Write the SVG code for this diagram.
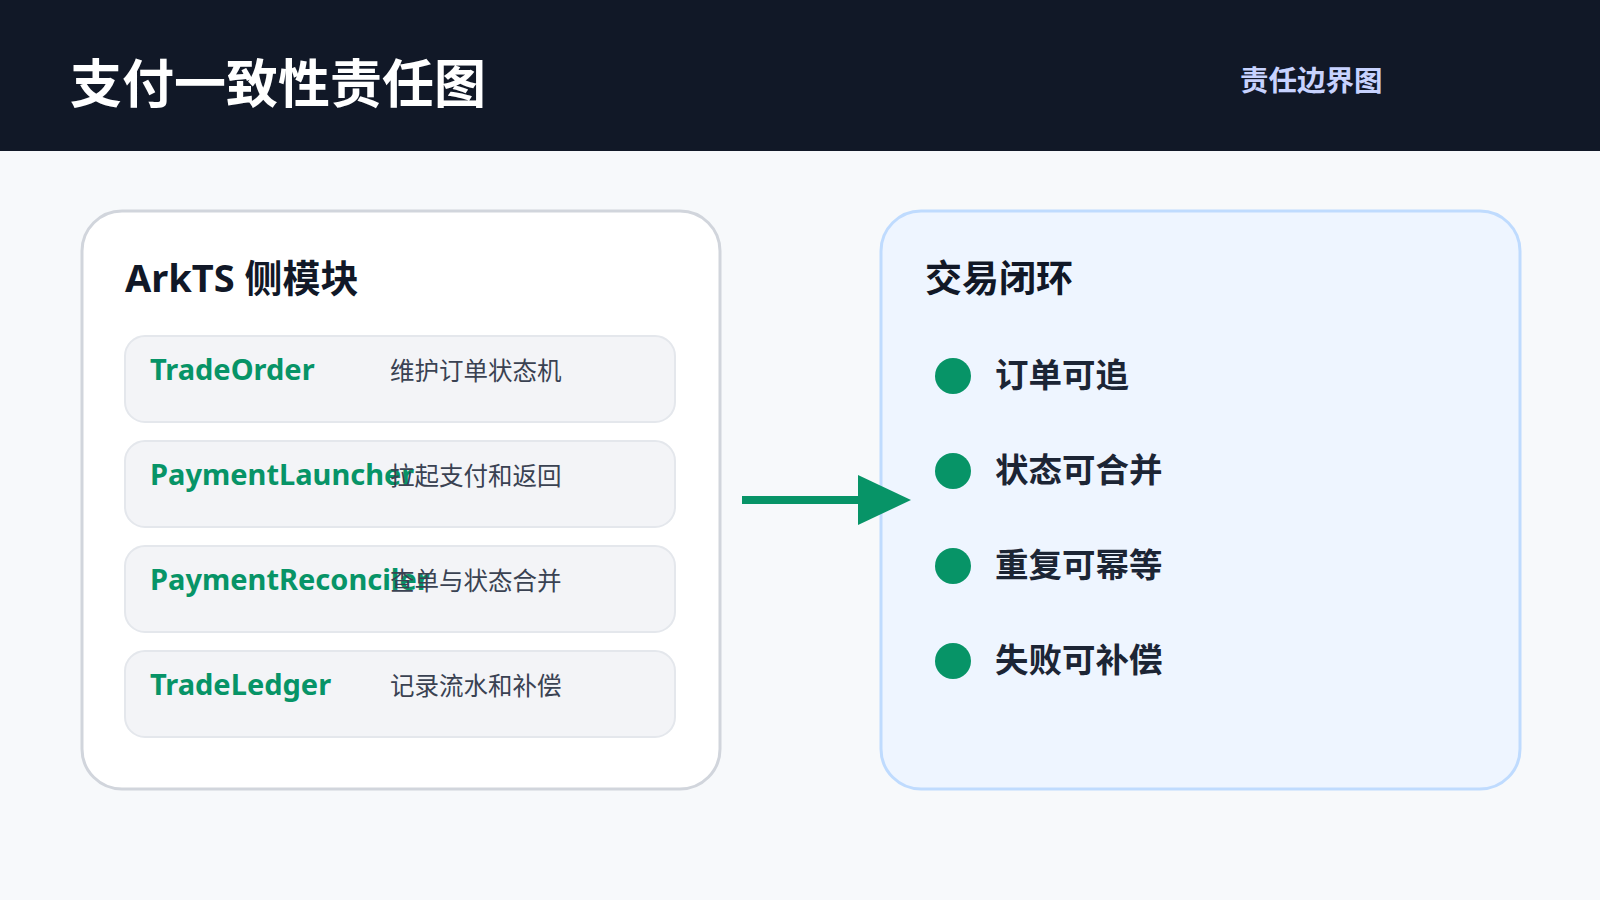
<svg xmlns="http://www.w3.org/2000/svg" width="1600" height="900" viewBox="0 0 1600 900">
<style>
text{font-family:"Noto Sans","Noto Sans CJK SC",sans-serif}
.row{fill:#f3f4f7;stroke:#e4e7ec;stroke-width:2}
.nm{fill:#079467;font-size:29px;font-weight:700}
.ds{fill:#3a4252;font-size:24.5px}
.bl{fill:#079467}
.bt{fill:#1c2535;font-size:33.5px;font-weight:700}
</style>
<rect width="1600" height="900" fill="#f7f9fb"/>
<rect width="1600" height="151" fill="#111827"/>
<text x="70" y="103" font-size="52" font-weight="700" fill="#ffffff">支付一致性责任图</text>
<text x="1240" y="91" font-size="28.5" font-weight="700" fill="#c7d2fe">责任边界图</text>
<g id="left">
<rect x="82" y="211" width="638" height="578" rx="40" fill="#ffffff" stroke="#d1d5dc" stroke-width="3"/>
<text x="125" y="292" font-size="38" font-weight="700" fill="#111827">ArkTS 侧模块</text>
</g>
<g id="n1"><rect class="row" x="125" y="336" width="550" height="86" rx="20"/><text class="nm" x="150" y="380">TradeOrder</text><text class="ds" x="390" y="380">维护订单状态机</text></g>
<g id="n2"><rect class="row" x="125" y="441" width="550" height="86" rx="20"/><text class="nm" x="150" y="485">PaymentLauncher</text><text class="ds" x="390" y="485">拉起支付和返回</text></g>
<g id="n3"><rect class="row" x="125" y="546" width="550" height="86" rx="20"/><text class="nm" x="150" y="590">PaymentReconciler</text><text class="ds" x="390" y="590">查单与状态合并</text></g>
<g id="n4"><rect class="row" x="125" y="651" width="550" height="86" rx="20"/><text class="nm" x="150" y="695">TradeLedger</text><text class="ds" x="390" y="695">记录流水和补偿</text></g>
<g id="right">
<rect x="881" y="211" width="639" height="578" rx="40" fill="#eef5ff" stroke="#bfdbfe" stroke-width="3"/>
<text x="925" y="292" font-size="37" font-weight="700" fill="#111827">交易闭环</text>
<circle class="bl" cx="953" cy="376" r="18"/><text class="bt" x="995" y="387">订单可追</text>
<circle class="bl" cx="953" cy="471" r="18"/><text class="bt" x="995" y="482">状态可合并</text>
<circle class="bl" cx="953" cy="566" r="18"/><text class="bt" x="995" y="577">重复可幂等</text>
<circle class="bl" cx="953" cy="661" r="18"/><text class="bt" x="995" y="672">失败可补偿</text>
</g>
<g id="connectors">
<line x1="742" y1="500" x2="866" y2="500" stroke="#079467" stroke-width="8"/>
<polygon points="858,475 911,500 858,525" fill="#079467"/>
</g>
</svg>
